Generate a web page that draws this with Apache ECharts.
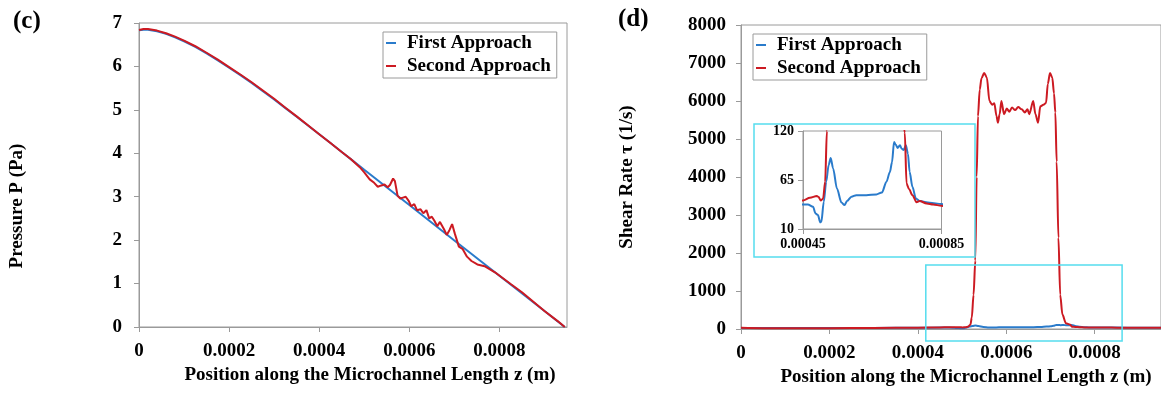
<!DOCTYPE html>
<html>
<head>
<meta charset="utf-8">
<script src="https://cdn.jsdelivr.net/npm/echarts@6/dist/echarts.min.js"></script>
<style>
  html, body { margin: 0; padding: 0; background: #fff; }
  #main { width: 1161px; height: 394px; }
</style>
</head>
<body>
<div id="main"></div>
<script>
// (c) pressure along the channel
var pressZ1 = [0, 0.00001, 0.00002, 0.00004, 0.00006, 0.00008, 0.0001, 0.000125, 0.00015, 0.000175, 0.0002, 0.000225, 0.00025,
  0.000275, 0.0003, 0.000325, 0.00035, 0.000375, 0.0004, 0.000425, 0.00045, 0.000475, 0.0005, 0.0006, 0.0007, 0.0008, 0.0009, 0.000945];
var pressP1 = [6.83, 6.845, 6.845, 6.81, 6.75, 6.67, 6.58, 6.45, 6.30, 6.14, 5.97, 5.80, 5.62,
  5.43, 5.24, 5.04, 4.84, 4.64, 4.44, 4.235, 4.03, 3.825, 3.62, 2.81, 1.99, 1.18, 0.37, 0];

var pressZ2 = [0, 0.00001, 0.00002, 0.00004, 0.00006, 0.00008, 0.0001, 0.000125, 0.00015, 0.000175, 0.0002, 0.000225, 0.00025,
  0.000275, 0.0003, 0.000325, 0.00035, 0.000375, 0.0004, 0.000425, 0.00045, 0.00047, 0.00049, 0.0005,
  0.000512, 0.000522, 0.00053, 0.000538, 0.000545, 0.000552, 0.000557, 0.000564, 0.000568, 0.000574, 0.00058, 0.000586, 0.000592,
  0.000599, 0.000604, 0.000611, 0.000617, 0.000625, 0.000631, 0.000638, 0.000644, 0.00065, 0.000656, 0.000662, 0.000668, 0.000677,
  0.000683, 0.000689, 0.000695, 0.000701, 0.00071, 0.000718, 0.000728, 0.000738, 0.000751, 0.000767, 0.00079, 0.000825, 0.00085,
  0.0009, 0.00093, 0.000945];
var pressP2 = [6.84, 6.86, 6.86, 6.825, 6.765, 6.685, 6.595, 6.465, 6.315, 6.155, 5.985, 5.815, 5.635,
  5.445, 5.255, 5.05, 4.85, 4.645, 4.44, 4.235, 4.03, 3.87, 3.68, 3.56,
  3.40, 3.32, 3.23, 3.26, 3.28, 3.22, 3.27, 3.42, 3.36, 3.02, 2.96, 2.98, 3.00,
  2.90, 2.78, 2.83, 2.69, 2.71, 2.62, 2.69, 2.50, 2.54, 2.44, 2.32, 2.42, 2.25,
  2.12, 2.23, 2.37, 2.15, 1.85, 1.80, 1.62, 1.52, 1.44, 1.40, 1.26, 0.99, 0.80,
  0.37, 0.13, 0];

// (d) shear rate along the channel
var shearZ1 = [0, 0.0001, 0.0002, 0.0003, 0.0004, 0.00045, 0.000464, 0.000479, 0.000486, 0.000493, 0.0005, 0.000503, 0.00051,
  0.000517, 0.000524, 0.00053, 0.000537, 0.000548, 0.000561, 0.00057, 0.000577, 0.00059, 0.000604, 0.000633, 0.000662, 0.000678,
  0.000691, 0.000701, 0.000707, 0.000713, 0.000718, 0.000723, 0.00073, 0.000735, 0.000741, 0.000747, 0.000753, 0.000758, 0.000766,
  0.000776, 0.000787, 0.000816, 0.00085, 0.0009, 0.00095];
var shearT1 = [28, 25, 25, 28, 33, 37.6, 37.6, 35, 27.5, 25.7, 17.5, 18, 40.6,
  63, 81.6, 89.8, 77.9, 55.5, 39.8, 36.8, 41.3, 46.2, 48, 48, 48.8, 51,
  63, 74, 85, 107.7, 104.7, 101, 104, 100, 98.7, 104, 94.6, 74, 57.4,
  44.3, 41.3, 39.5, 38, 33, 30];

var shearZ2 = [0, 0.00005, 0.0001, 0.0002, 0.0003, 0.0004, 0.00045, 0.00047, 0.00049, 0.000495, 0.000501, 0.000508, 0.000514,
  0.000519, 0.000522, 0.000526, 0.00053, 0.000533, 0.000536, 0.00054, 0.000544, 0.00055, 0.000556, 0.000562, 0.000568, 0.000573,
  0.000578, 0.000581, 0.000585, 0.000589, 0.000595, 0.000601, 0.000607, 0.000613, 0.00062, 0.000627, 0.000635, 0.000642, 0.000648,
  0.000652, 0.000661, 0.000666, 0.000672, 0.000677, 0.000684, 0.00069, 0.000694, 0.000699, 0.000704, 0.000708, 0.000711, 0.000714,
  0.000718, 0.000722, 0.000727, 0.000735, 0.000744, 0.000749, 0.000756, 0.000766, 0.000778, 0.000787, 0.000807, 0.000826, 0.00085,
  0.0009, 0.00095];
var shearT2 = [30, 22, 20, 22, 26, 35, 42, 45, 47, 46, 42, 44, 63,
  120, 300, 900, 1800, 4000, 5600, 6300, 6600, 6737, 6620, 6000, 5900, 5940,
  5600, 5430, 5650, 6000, 5650, 5800, 5720, 5830, 5760, 5840, 5780, 5700, 5780,
  5650, 6000, 5650, 5430, 5860, 5900, 5950, 6450, 6737, 6620, 6200, 5700, 4400,
  2400, 900, 380, 150, 118, 61, 55, 48, 40, 41.3, 38.7, 37.6, 36,
  32, 30];

var seriesNames = ['First Approach', 'Second Approach'];
var xTicksInset = [0.00045, 0.00085];

var blue = '#2A7BCB';
var red = '#CC1A22';
var axisGray = '#9a9a9a';
var serif = '"Liberation Serif", "Times New Roman", serif';

function zip(xs, ys) {
  return xs.map(function (x, i) { return [x, ys[i]]; });
}

var chart = echarts.init(document.getElementById('main'));

var tickLabel = { fontFamily: serif, fontWeight: 'bold', fontSize: 19, color: '#000' };
var insetLabel = { fontFamily: serif, fontWeight: 'bold', fontSize: 14, color: '#000' };
var axisLine = { lineStyle: { color: axisGray, width: 1 } };
var axisTick = { show: true, inside: false, length: 5, lineStyle: { color: axisGray } };
var plain = function (v) { return String(v); };

function legendAt(left, top) {
  return {
    orient: 'vertical',
    left: left,
    top: top,
    padding: [1, 6, 2, 3],
    itemGap: 3,
    itemWidth: 10,
    itemHeight: 2,
    icon: 'rect',
    borderColor: axisGray,
    borderWidth: 1,
    textStyle: { fontFamily: serif, fontWeight: 'bold', fontSize: 19, color: '#000', lineHeight: 20, padding: [0, 0, 0, 6] },
    data: seriesNames
  };
}

function lineSeries(name, color, data, idx, z, smooth) {
  return {
    name: name,
    type: 'line',
    xAxisIndex: idx,
    yAxisIndex: idx,
    data: data,
    showSymbol: false,
    symbol: 'none',
    smooth: smooth,
    smoothMonotone: smooth ? 'x' : undefined,
    z: z,
    lineStyle: { color: color, width: 2 },
    itemStyle: { color: color }
  };
}

chart.setOption({
  animation: false,
  backgroundColor: '#fff',
  title: [
    { text: '(c)', left: 13, top: 9, padding: 0, textStyle: { fontFamily: serif, fontWeight: 'bold', fontSize: 25, color: '#000' } },
    { text: '(d)', left: 618, top: 7, padding: 0, textStyle: { fontFamily: serif, fontWeight: 'bold', fontSize: 25, color: '#000' } }
  ],
  legend: [legendAt(383, 32), legendAt(753, 34)],
  grid: [
    { left: 139, top: 23, width: 428, height: 304, show: true, borderColor: axisGray, borderWidth: 1 },
    { left: 741, top: 25, width: 427.5, height: 304, show: true, borderColor: axisGray, borderWidth: 1 },
    { left: 803, top: 131, width: 138.5, height: 98, show: true, borderColor: axisGray, borderWidth: 1 }
  ],
  xAxis: [
    {
      gridIndex: 0, type: 'value', min: 0, max: 0.00095, interval: 0.0002,
      name: 'Position along the Microchannel Length z (m)', nameLocation: 'middle', nameGap: 39,
      nameTextStyle: { fontFamily: serif, fontWeight: 'bold', fontSize: 19, color: '#000', padding: [0, 0, 0, 34] },
      axisLine: axisLine, axisTick: axisTick, splitLine: { show: false },
      axisLabel: Object.assign({ margin: 15, showMaxLabel: false, formatter: function (v) { return v === 0 ? '0' : v.toFixed(4); } }, tickLabel)
    },
    {
      gridIndex: 1, type: 'value', min: 0, max: 0.00095, interval: 0.0002,
      name: 'Position along the Microchannel Length z (m)', nameLocation: 'middle', nameGap: 39,
      nameTextStyle: { fontFamily: serif, fontWeight: 'bold', fontSize: 19, color: '#000', padding: [0, 0, 0, 30] },
      axisLine: axisLine, axisTick: axisTick, splitLine: { show: false },
      axisLabel: Object.assign({ margin: 15, showMaxLabel: false, formatter: function (v) { return v === 0 ? '0' : v.toFixed(4); } }, tickLabel)
    },
    {
      gridIndex: 2, type: 'value', min: xTicksInset[0], max: xTicksInset[1], interval: xTicksInset[1] - xTicksInset[0],
      axisLine: axisLine, axisTick: axisTick, splitLine: { show: false },
      axisLabel: Object.assign({ margin: 8, formatter: function (v) { return v.toFixed(5); } }, insetLabel)
    }
  ],
  yAxis: [
    {
      gridIndex: 0, type: 'value', min: 0, max: 7, interval: 1,
      name: 'Pressure P (Pa)', nameLocation: 'middle', nameGap: 112,
      nameTextStyle: { fontFamily: serif, fontWeight: 'bold', fontSize: 19, color: '#000', padding: [0, 62, 0, 0] },
      axisLine: { show: true, lineStyle: { color: axisGray, width: 1 } }, axisTick: axisTick, splitLine: { show: false },
      axisLabel: Object.assign({ margin: 17, formatter: plain }, tickLabel)
    },
    {
      gridIndex: 1, type: 'value', min: 0, max: 8000, interval: 1000,
      name: 'Shear Rate \u03c4 (1/s)', nameLocation: 'middle', nameGap: 104,
      nameTextStyle: { fontFamily: serif, fontWeight: 'bold', fontSize: 19, color: '#000' },
      axisLine: { show: true, lineStyle: { color: axisGray, width: 1 } }, axisTick: axisTick, splitLine: { show: false },
      axisLabel: Object.assign({ margin: 15, formatter: plain }, tickLabel)
    },
    {
      gridIndex: 2, type: 'value', min: 10, max: 120, interval: 55,
      axisLine: { show: true, lineStyle: { color: axisGray, width: 1 } }, axisTick: axisTick, splitLine: { show: false },
      axisLabel: Object.assign({ margin: 9, formatter: plain }, insetLabel)
    }
  ],
  series: [
    lineSeries(seriesNames[0], blue, zip(pressZ1, pressP1), 0, 2, false),
    lineSeries(seriesNames[1], red, zip(pressZ2, pressP2), 0, 3, false),
    lineSeries(seriesNames[0], blue, zip(shearZ1, shearT1), 1, 2, 0.3),
    lineSeries(seriesNames[1], red, zip(shearZ2, shearT2), 1, 3, 0.3),
    lineSeries(seriesNames[0], blue, zip(shearZ1, shearT1), 2, 2, 0.3),
    lineSeries(seriesNames[1], red, zip(shearZ2, shearT2), 2, 3, 0.3)
  ]
});

// zoom boxes: the highlighted region on the main plot and the frame round the inset
var p0 = chart.convertToPixel({ gridIndex: 1 }, [0.000418, 1684]);
var p1 = chart.convertToPixel({ gridIndex: 1 }, [0.000862, -316]);
chart.setOption({
  graphic: [
    {
      type: 'rect', z: 10, silent: true,
      shape: { x: p0[0], y: p0[1], width: p1[0] - p0[0], height: p1[1] - p0[1] },
      style: { fill: 'none', stroke: '#55DDEE', lineWidth: 1.5 }
    },
    {
      type: 'rect', z: 10, silent: true,
      shape: { x: 754, y: 124, width: 221, height: 133 },
      style: { fill: 'none', stroke: '#55DDEE', lineWidth: 1.5 }
    }
  ]
});
</script>
</body>
</html>
